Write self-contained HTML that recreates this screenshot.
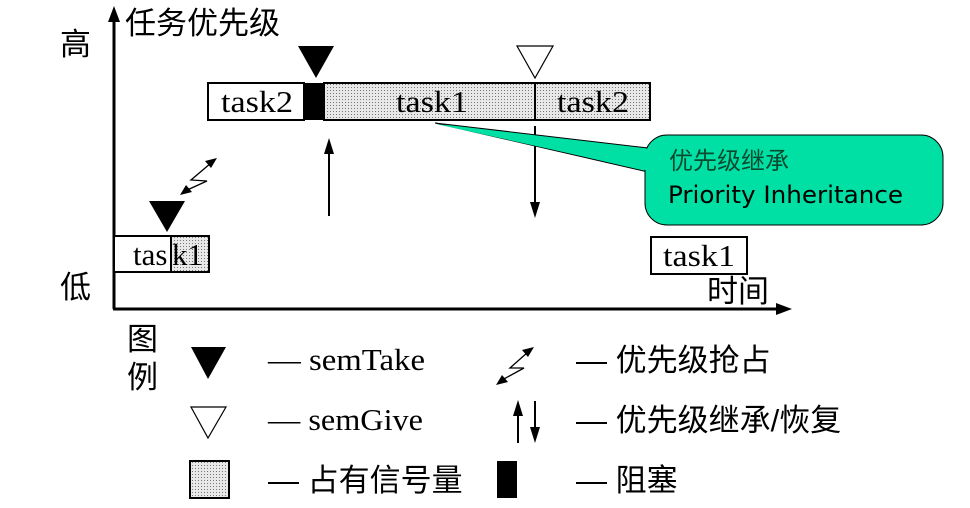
<!DOCTYPE html>
<html><head><meta charset="utf-8"><style>
html,body{margin:0;padding:0;background:#fff;}
svg{display:block;}
.s{font-family:"Liberation Serif","Noto Serif CJK SC",serif;font-size:31px;fill:#000;}
.c{font-family:"Liberation Sans","Noto Sans CJK SC",sans-serif;font-size:31px;fill:#000;}
</style></head><body>
<svg width="970" height="508" viewBox="0 0 970 508" xmlns="http://www.w3.org/2000/svg">
<defs>
<pattern id="dot" width="3" height="3" patternUnits="userSpaceOnUse">
<rect width="3" height="3" fill="#e8e8e8"/><rect width="1" height="1" fill="#777"/>
</pattern>
</defs>
<!-- axes -->
<line x1="114" y1="309" x2="114" y2="20" stroke="#000" stroke-width="3"/>
<path d="M108,22 L114,6 L120,22 Z" fill="#000"/>
<line x1="113" y1="309" x2="778" y2="309" stroke="#000" stroke-width="3"/>
<path d="M776,303 L792,309 L776,315 Z" fill="#000"/>
<text x="125" y="34" class="c">任务优先级</text>
<text x="60" y="55" class="c">高</text>
<text x="60" y="298" class="c">低</text>
<text x="707" y="302" class="c">时间</text>

<!-- top bar -->
<rect x="208" y="83" width="96" height="37" fill="#fff" stroke="#000" stroke-width="2"/>
<rect x="304" y="83" width="20" height="37" fill="#000"/>
<rect x="324" y="83" width="326" height="37" fill="url(#dot)" stroke="#000" stroke-width="2"/>
<line x1="535" y1="83" x2="535" y2="120" stroke="#000" stroke-width="2"/>
<text x="221" y="112" class="s" textLength="72" lengthAdjust="spacingAndGlyphs">task2</text>
<text x="396" y="112" class="s" textLength="72" lengthAdjust="spacingAndGlyphs">task1</text>
<text x="557" y="112" class="s" textLength="72" lengthAdjust="spacingAndGlyphs">task2</text>
<path d="M298,46 L334,46 L316,78 Z" fill="#000"/>
<path d="M517,46 L553,46 L535,78 Z" fill="#fff" stroke="#000" stroke-width="1.2"/>

<!-- arrows -->
<line x1="329" y1="216" x2="329" y2="150" stroke="#000" stroke-width="2"/>
<path d="M324,154 L329,138 L334,154 Z" fill="#000"/>
<line x1="535" y1="126" x2="535" y2="205" stroke="#000" stroke-width="2"/>
<path d="M530,202 L535,218 L540,202 Z" fill="#000"/>

<!-- lightning -->
<g stroke="#000" stroke-width="1.3" fill="none"><path d="M211,163 L191,180 L207,181 L185,191"/></g>
<path d="M217,158 L205,161 L211,168 Z" fill="#000"/>
<path d="M180,195 L186,185 L192,192 Z" fill="#000"/>

<!-- callout -->
<path d="M435,123 L648,148 L648,172 Z" fill="#00E0A4" stroke="#000" stroke-width="1"/>
<rect x="645" y="135" width="298" height="90" rx="22" fill="#00E0A4" stroke="#000" stroke-width="1"/>
<path d="M436,124 L650,149 L650,171 Z" fill="#00E0A4"/>
<text x="669" y="169" style="font-family:'Liberation Sans','Noto Sans CJK SC',sans-serif;font-size:24px;fill:#0a4a30">优先级继承</text>
<text x="668" y="203" style="font-family:'DejaVu Sans',sans-serif;font-size:24px;fill:#000" textLength="235" lengthAdjust="spacingAndGlyphs">Priority Inheritance</text>

<!-- low boxes -->
<rect x="114" y="236" width="57" height="36" fill="#fff" stroke="#000" stroke-width="2"/>
<rect x="171" y="236" width="38" height="36" fill="url(#dot)" stroke="#000" stroke-width="2"/>
<text x="133" y="265" class="s">tas</text>
<text x="172" y="265" class="s">k1</text>
<path d="M149,201 L185,201 L167,232 Z" fill="#000"/>
<rect x="651" y="237" width="96" height="37" fill="#fff" stroke="#000" stroke-width="2"/>
<text x="663" y="266" class="s" textLength="72" lengthAdjust="spacingAndGlyphs">task1</text>

<!-- legend -->
<text x="127" y="350" class="c">图</text>
<text x="127" y="388" class="c">例</text>
<path d="M191,347 L226,347 L208,379 Z" fill="#000"/>
<text x="268" y="370" class="s" textLength="157" lengthAdjust="spacingAndGlyphs">— semTake</text>
<path d="M191,407 L226,407 L208,438 Z" fill="#fff" stroke="#000" stroke-width="1.2"/>
<text x="268" y="430" class="s" textLength="155" lengthAdjust="spacingAndGlyphs">— semGive</text>
<rect x="190" y="461" width="39" height="37" fill="url(#dot)" stroke="#000" stroke-width="2"/>
<text x="268" y="491" class="c">— 占有信号量</text>

<g stroke="#000" stroke-width="1.3" fill="none"><path d="M528,352 L510,368 L524,368 L502,380"/></g>
<path d="M534,347 L522,350 L528,357 Z" fill="#000"/>
<path d="M496,385 L502,375 L508,382 Z" fill="#000"/>
<text x="576" y="371" class="c">— 优先级抢占</text>
<line x1="518" y1="443" x2="518" y2="412" stroke="#000" stroke-width="2"/>
<path d="M513,416 L518,400 L523,416 Z" fill="#000"/>
<line x1="535" y1="401" x2="535" y2="430" stroke="#000" stroke-width="2"/>
<path d="M530,427 L535,443 L540,427 Z" fill="#000"/>
<text x="576" y="431" class="c">— 优先级继承/恢复</text>
<rect x="497" y="461" width="20" height="37" fill="#000"/>
<text x="576" y="491" class="c">— 阻塞</text>
</svg>
</body></html>
